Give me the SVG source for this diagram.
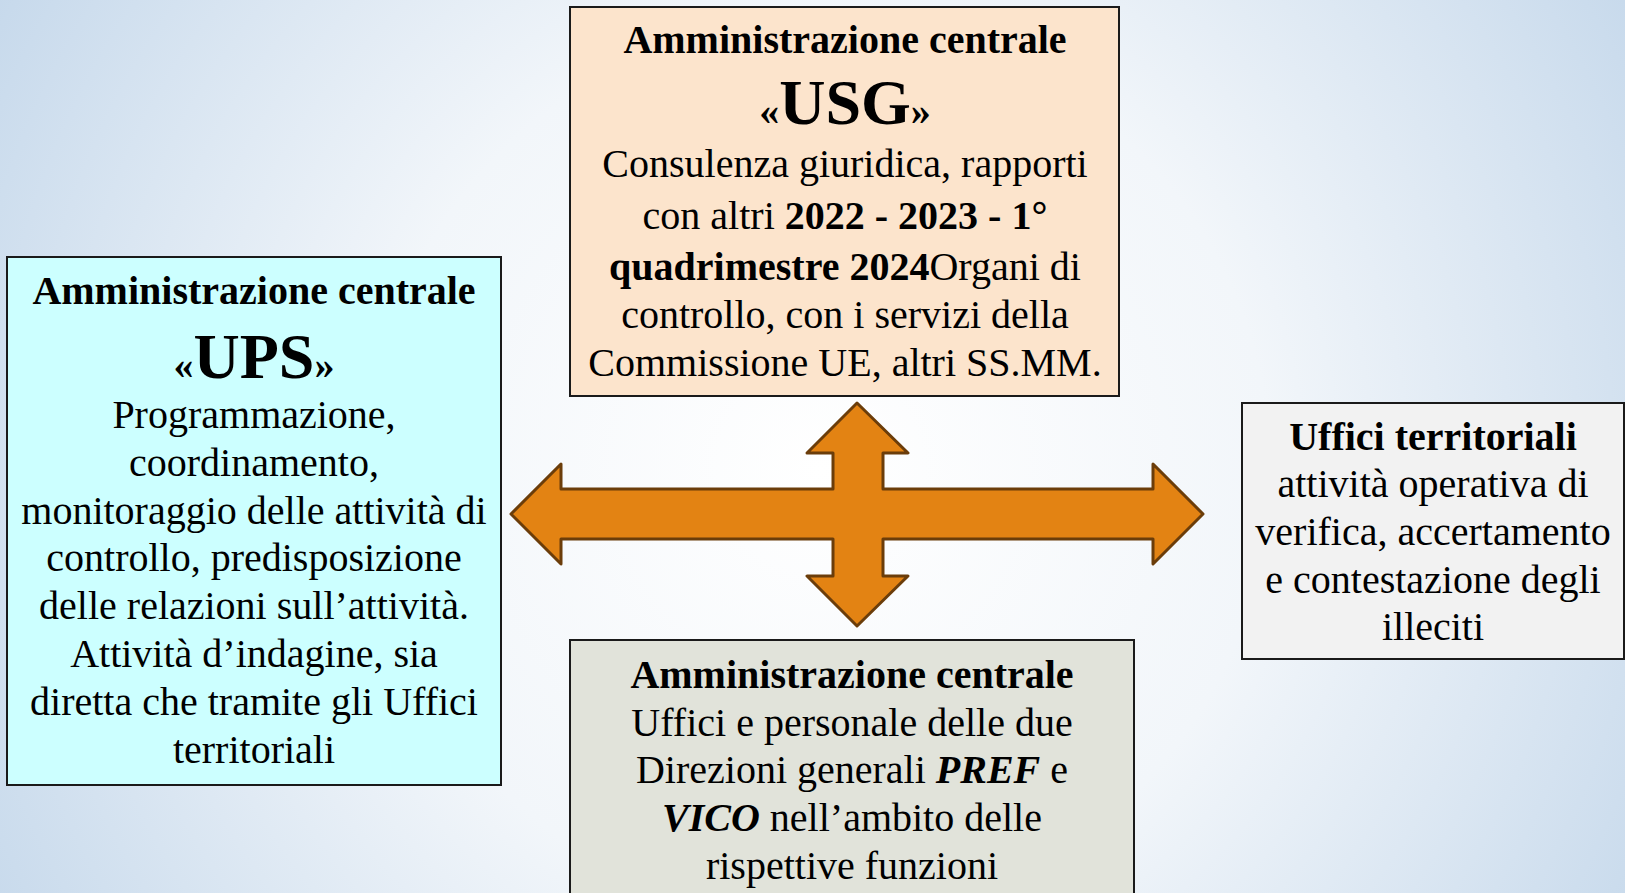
<svg xmlns="http://www.w3.org/2000/svg" width="1625" height="893" viewBox="0 0 1625 893">
<defs>
<radialGradient id="bg" cx="820" cy="470" r="1000" gradientUnits="userSpaceOnUse">
<stop offset="0" stop-color="#FFFFFF"/>
<stop offset="0.45" stop-color="#F2F6FA"/>
<stop offset="1" stop-color="#C2D6EA"/>
</radialGradient>
<style>
.box{stroke:#1A1A1A;stroke-width:2}
text{font-family:"Liberation Serif","Times New Roman",serif;font-size:40px;fill:#000;text-anchor:middle}
.b{font-weight:bold}
.bi{font-weight:bold;font-style:italic}
.big{font-weight:bold;font-size:64px}
.arrow{fill:#E38313;stroke:#6B3D0A;stroke-width:3;stroke-linejoin:round}
</style>
</defs>
<rect x="0" y="0" width="1625" height="893" fill="url(#bg)"/>

<g id="connectors">
<path class="arrow" d="M511,514 L561,464 L561,489 L833,489 L833,453 L807,453 L857,403 L908,453 L883,453 L883,489 L1153,489 L1153,464 L1203,514 L1153,564 L1153,539 L883,539 L883,576 L908,576 L857,626 L807,576 L833,576 L833,539 L561,539 L561,564 Z"/>
</g>

<g id="node-usg">
<rect class="box" x="570" y="7" width="549" height="389" fill="#FCE4CC"/>
<text x="845" y="53" class="b">Amministrazione centrale</text>
<text x="845" y="124"><tspan class="b">«</tspan><tspan class="big">USG</tspan><tspan class="b">»</tspan></text>
<text x="845" y="177">Consulenza giuridica, rapporti</text>
<text x="845" y="229">con altri <tspan class="b">2022 - 2023 - 1°</tspan></text>
<text x="845" y="280"><tspan class="b">quadrimestre 2024</tspan>Organi di</text>
<text x="845" y="328">controllo, con i servizi della</text>
<text x="845" y="376">Commissione UE, altri SS.MM.</text>
</g>

<g id="node-ups">
<rect class="box" x="7" y="257" width="494" height="528" fill="#CCFFFF"/>
<text x="254" y="304" class="b">Amministrazione centrale</text>
<text x="254" y="378"><tspan class="b">«</tspan><tspan class="big">UPS</tspan><tspan class="b">»</tspan></text>
<text x="254" y="428">Programmazione,</text>
<text x="254" y="476">coordinamento,</text>
<text x="254" y="524">monitoraggio delle attività di</text>
<text x="254" y="571">controllo, predisposizione</text>
<text x="254" y="619">delle relazioni sull’attività.</text>
<text x="254" y="667">Attività d’indagine, sia</text>
<text x="254" y="715">diretta che tramite gli Uffici</text>
<text x="254" y="763">territoriali</text>
</g>

<g id="node-uffici">
<rect class="box" x="1242" y="403" width="382" height="256" fill="#F2F2F2"/>
<text x="1433" y="450" class="b">Uffici territoriali</text>
<text x="1433" y="497">attività operativa di</text>
<text x="1433" y="545">verifica, accertamento</text>
<text x="1433" y="593">e contestazione degli</text>
<text x="1433" y="640">illeciti</text>
</g>

<g id="node-dg">
<rect class="box" x="570" y="640" width="564" height="262" fill="#E1E3DA"/>
<text x="852" y="688" class="b">Amministrazione centrale</text>
<text x="852" y="736">Uffici e personale delle due</text>
<text x="852" y="783">Direzioni generali <tspan class="bi">PREF</tspan> e</text>
<text x="852" y="831"><tspan class="bi">VICO</tspan> nell’ambito delle</text>
<text x="852" y="879">rispettive funzioni</text>
</g>
</svg>
